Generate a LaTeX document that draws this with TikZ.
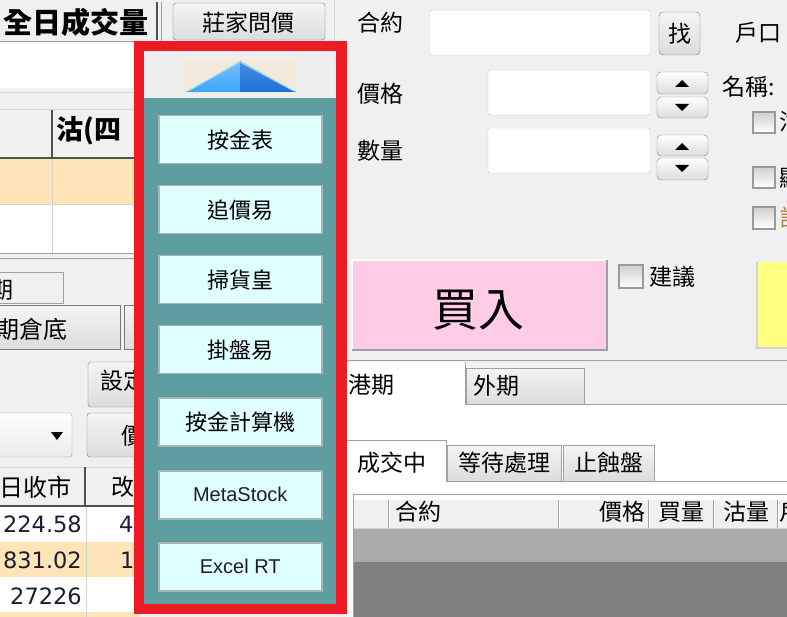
\documentclass[tikz,border=0pt]{standalone}
\usepackage{fontspec}
\setmainfont{Liberation Sans}
\newfontfamily\cjk{Noto Sans CJK TC}
\newfontfamily\numf{DejaVu Sans}
\usetikzlibrary{shadings}
\definecolor{winbg}{HTML}{F0F0F0}
\definecolor{lineg}{HTML}{A0A0A0}
\definecolor{lineL}{HTML}{D4D4D4}
\definecolor{dkline}{HTML}{505050}
\definecolor{bord}{HTML}{7A7A7A}
\definecolor{btnlo}{HTML}{DCDCDC}
\definecolor{fieldb}{HTML}{C8C8C8}
\definecolor{spinb}{HTML}{8A8A8A}
\definecolor{cbb}{HTML}{9A9A9A}
\definecolor{cbtop}{HTML}{D0D0D0}
\definecolor{orrow}{HTML}{FFE4B8}
\definecolor{numc}{HTML}{1C1C34}
\definecolor{redf}{HTML}{ED1C24}
\definecolor{teal}{HTML}{5F9EA0}
\definecolor{popcy}{HTML}{E0FFFF}
\definecolor{popb}{HTML}{A9B4B4}
\definecolor{popgrey}{HTML}{EFEFEF}
\definecolor{beige}{HTML}{F2EBDC}
\definecolor{bluel}{HTML}{3AA6F8}
\definecolor{blued}{HTML}{1A72D8}
\definecolor{pinkb}{HTML}{FFCCE8}
\definecolor{yelb}{HTML}{FFFF80}
\definecolor{gridl}{HTML}{ABABAB}
\definecolor{gridd}{HTML}{808080}
\definecolor{fragc}{HTML}{B08040}
\begin{document}
\begin{tikzpicture}[x=1pt,y=-1pt,
  cj/.style={inner sep=0pt, font=\cjk\fontsize{23}{23}\selectfont, text=black},
  cjb/.style={inner sep=0pt, font=\cjk\bfseries\fontsize{27}{27}\selectfont, text=black},
  num/.style={inner sep=0pt, font=\numf\fontsize{22.5}{22.5}\selectfont, text=numc},
  grad/.style={draw=bord, top color=white!96!black, bottom color=btnlo, rounded corners=3pt},
  field/.style={draw=fieldb, fill=white, rounded corners=2pt},
  spin/.style={draw=spinb, top color=white, bottom color=btnlo, rounded corners=4pt},
  cbox/.style={draw=cbb, line width=1.2pt, top color=cbtop, bottom color=white},
  popbtn/.style={draw=popb, line width=1.5pt, fill=popcy, minimum width=163pt, minimum height=48pt, inner sep=0pt, anchor=north west, font=\cjk\fontsize{22}{22}\selectfont},
  popbtnl/.style={popbtn, font=\fontsize{20}{20}\selectfont, text=numc},
  gl/.style={draw=lineg, line width=1pt},
  ll/.style={draw=lineL, line width=1pt},
  dl/.style={draw=dkline, line width=1.5pt},
]
\useasboundingbox (0,0) rectangle (787,617);
\clip (0,0) rectangle (787,617);
\fill[winbg] (0,0) rectangle (787,617);

% ---------------- left panel ----------------
\node[cjb, anchor=east, font=\cjk\bfseries\fontsize{29}{29}\selectfont] (qrcjl) at (149,22) {全日成交量};
\draw[dl] (157,2) -- (157,40);
\draw[gl] (161,2) -- (161,90);
\fill[white] (0,43) rectangle (156,88);
\draw[gl] (0,42) -- (157,42);
\draw[ll] (0,93) -- (340,93);
\draw[grad] (173,3) rectangle (325,40);
\node[cj] (zjwj) at (248,23) {莊家問價};
\draw[ll] (334,0) -- (334,41);

% table 1
\draw[ll] (0,110) -- (140,110);
\fill[orrow] (0,158) rectangle (140,205);
\fill[white] (0,205) rectangle (140,253);
\draw[dl] (52,110) -- (52,158);
\draw[ll] (52,158) -- (52,253);
\draw[ll] (0,205) -- (140,205);
\draw[dl] (0,158) -- (140,158);
\node[cjb, anchor=west] (gusi) at (56,131) {沽(四};
\draw[gl] (0,254) -- (340,254);
\draw[gl] (0,259) -- (340,259);

% tab and buttons
\draw[gl, fill=winbg] (-5,273) rectangle (63,304);
\node[cj] (qi1) at (2,290) {期};
\draw[grad, rounded corners=0pt] (-5,305) rectangle (120,349);
\draw[grad, rounded corners=0pt] (124,305) rectangle (210,349);
\node[cj, anchor=east, font=\cjk\fontsize{24}{24}\selectfont] (qcd) at (68,329) {期倉底};
\draw[grad] (88,362) rectangle (210,407);
\node[cj, anchor=west] (sd) at (100,381) {設定};
\draw[grad, top color=white, bottom color=white!92!black, draw=lineg] (-5,413) rectangle (72,457);
\fill[black] (51,432) -- (63,432) -- (57,440) -- cycle;
\draw[grad] (87,413) rectangle (210,457);
\node[cj, anchor=west] (jg1) at (121,436) {價格};

% table 2
\draw[ll] (0,467) -- (140,467);
\draw[dl] (85,467) -- (85,506);
\node[cj, anchor=east, font=\cjk\fontsize{24}{24}\selectfont] (rsh) at (72,487) {日收市};
\node[cj, anchor=west] (gai) at (111,487) {改};
\fill[white] (0,507) rectangle (140,542);
\fill[orrow] (0,542) rectangle (140,577);
\fill[white] (0,577) rectangle (140,612);
\fill[orrow] (0,612) rectangle (140,620);
\draw[dl] (0,506) -- (140,506);
\draw[ll] (86,507) -- (86,617);
\node[num, anchor=east] (n1) at (82,524) {224.58};
\node[num, anchor=east] (n2) at (82,560) {831.02};
\node[num, anchor=east] (n3) at (82,596) {27226};
\node[num, anchor=west] (m1) at (119,524) {4};
\node[num, anchor=west] (m2) at (120,560) {1};

% ---------------- right panel ----------------
\node[cj, anchor=west] (hy) at (357,23) {合約};
\draw[field] (430,10) rectangle (650,55);
\draw[grad, rounded corners=4pt] (659,12) rectangle (700,55);
\node[cj] (zhao) at (680,34) {找};
\node[cj, anchor=west] (hk) at (735,33) {戶口};

\node[cj, anchor=west] (jg2) at (357,94) {價格};
\draw[field] (488,70) rectangle (650,115);
\draw[spin] (657,72) rectangle (708,94);
\draw[spin] (657,97) rectangle (708,118);
\fill[black] (675,87) -- (689,87) -- (682,80) -- cycle;
\fill[black] (675,104) -- (689,104) -- (682,111) -- cycle;
\node[cj, anchor=west] (mc) at (722,87) {名稱:};

\node[cj, anchor=west] (sl) at (357,151) {數量};
\draw[field] (488,128) rectangle (650,173);
\draw[spin] (657,135) rectangle (708,156);
\draw[spin] (657,158) rectangle (708,180);
\fill[black] (675,150) -- (689,150) -- (682,143) -- cycle;
\fill[black] (675,165) -- (689,165) -- (682,172) -- cycle;

\draw[cbox] (753,112) rectangle (775,133);
\draw[cbox] (753,167) rectangle (775,188);
\draw[cbox] (753,207) rectangle (775,229);
\node[cj, anchor=west] (f1) at (779,122) {沽};
\node[cj, anchor=west] (f2) at (779,178) {顯};
\node[cj, anchor=west, text=fragc] (f3) at (779,218) {計};

\fill[pinkb] (352,260) rectangle (607,350);
\draw[white, line width=1.5pt] (352,350) -- (352,260) -- (607,260);
\draw[lineg, line width=1.5pt] (352,350) -- (607,350) -- (607,260);
\node[inner sep=0pt, font=\cjk\fontsize{46}{46}\selectfont] (mairu) at (478,310) {買入};
\draw[cbox] (619,265) rectangle (643,288);
\node[cj, anchor=west] (jy) at (649,277) {建議};
\fill[yelb] (757,262) rectangle (790,348);
\draw[lineL, line width=1.5pt] (757,262) -- (757,348) -- (790,348);

\draw[gl] (347,361) -- (787,361);
\fill[white] (347,404) rectangle (787,617);
\fill[white] (347,362) rectangle (465,405);
\draw[gl] (465,404) -- (465,362);
\node[cj, anchor=west] (gq) at (348,385) {港期};
\draw[grad, rounded corners=0pt, draw=lineg] (466,368) rectangle (584,404);
\node[cj, anchor=west] (wq) at (473,386) {外期};
\draw[gl] (465,404) -- (787,404);

\draw[gl] (347,440) -- (446,440) -- (446,481);
\node[cj, anchor=west] (cjz) at (357,463) {成交中};
\draw[grad, rounded corners=0pt, draw=lineg] (447,445) rectangle (561,481);
\node[cj] (ddcl) at (504,463) {等待處理};
\draw[grad, rounded corners=0pt, draw=lineg] (563,445) rectangle (654,481);
\node[cj] (zsp) at (609,463) {止蝕盤};
\draw[gl] (446,481) -- (787,481);

\draw[gl] (353,494) rectangle (800,630);
\fill[winbg] (354,500) rectangle (787,528);
\fill[gridl] (354,528) rectangle (787,562);
\fill[gridd] (354,562) rectangle (787,617);
\foreach \xx in {388,558,648,713,777}{
  \draw[lineg, line width=1pt] (\xx,500) -- (\xx,528);
  \draw[white, line width=1pt] (\xx+1.5,500) -- (\xx+1.5,528);
}
\draw[lineL] (354,528) -- (787,528);
\node[cj, anchor=west] (hy2) at (395,512) {合約};
\node[cj, anchor=east] (jg3) at (646,512) {價格};
\node[cj] (ml) at (681,512) {買量};
\node[cj] (gl2) at (746,512) {沽量};
\node[cj, anchor=west] (f4) at (779,512) {戶};

% ---------------- popup ----------------
\fill[redf] (134,41) rectangle (347,614);
\fill[popgrey] (144,51) rectangle (336,98);
\fill[teal] (144,98) rectangle (336,604);
\fill[beige] (183,59) rectangle (296,93);
\shade[top color=bluel!70!white, bottom color=bluel] (186,92) -- (240,61) -- (240,92) -- cycle;
\shade[top color=blued!80!white, bottom color=blued] (240,61) -- (296,92) -- (240,92) -- cycle;
\draw[white!60!bluel, line width=1pt, line join=round] (188,91) -- (240,62) -- (294,91);

\node[popbtn] (b1) at (158,115) {按金表};
\node[popbtn] (b2) at (158,185) {追價易};
\node[popbtn] (b3) at (158,255) {掃貨皇};
\node[popbtn] (b4) at (158,325) {掛盤易};
\node[popbtn] (b5) at (158,397) {按金計算機};
\node[popbtnl] (b6) at (158,470) {MetaStock};
\node[popbtnl] (b7) at (158,542) {Excel RT};
\end{tikzpicture}
\end{document}
